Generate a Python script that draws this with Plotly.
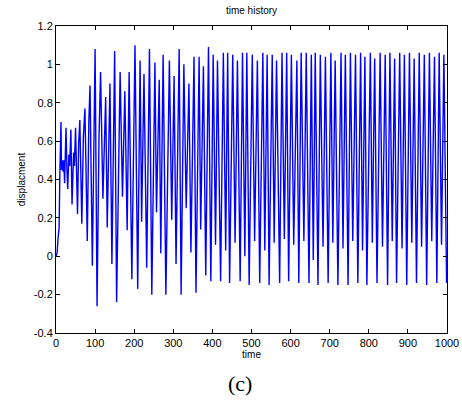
import plotly.graph_objects as go

# Transient part: (time, displacement) turning points
t_transient = [0, 3, 5, 8, 10, 12.8, 14, 16, 18, 20, 22, 25.6, 28, 30, 33, 35, 38, 41, 45, 47,
               50, 55, 58, 61, 66, 70, 74, 80, 84, 87, 93, 97, 100, 105, 110, 114, 120, 127, 131, 138,
               143, 150, 155, 164, 170, 176, 182, 187, 194, 202, 209, 215, 219, 225, 232, 239, 245, 253, 257, 264,
               268, 274, 281, 290, 296, 302, 307, 315, 320, 327, 333, 340, 345, 353, 358, 366, 370, 377, 383, 390,
               396]
y_transient = [0.0, 0.02, 0.09, 0.15, 0.45, 0.70, 0.45, 0.50, 0.44, 0.50, 0.38, 0.67, 0.45, 0.35, 0.53, 0.47, 0.66, 0.27, 0.54, 0.47,
               0.67, 0.22, 0.59, 0.71, 0.17, 0.62, 0.77, 0.08, 0.70, 0.89, -0.05, 0.68, 1.08, -0.26, 0.62, 0.96, 0.30, 0.83, 0.15, 0.90,
               -0.04, 1.07, -0.24, 0.96, 0.31, 0.86, 0.135, 0.96, -0.12, 1.10, -0.17, 1.02, 0.18, 0.95, -0.06, 1.08, -0.20, 1.01, 0.23, 0.92,
               0.015, 1.05, -0.20, 1.02, 0.19, 0.94, -0.04, 1.08, -0.20, 1.00, 0.25, 0.90, 0.02, 1.04, -0.19, 1.04, 0.14, 0.99, -0.10, 1.09,
               -0.13]

# Steady part
t_steady = [402, 408, 413, 421, 428, 434, 439, 444, 452, 458, 464, 471, 477, 483, 488, 494,
            502, 508, 515, 521, 529, 534, 540, 545, 553, 558, 564, 572, 578, 584, 590, 595,
            602, 608, 616, 621, 627, 634, 640, 647, 653, 658, 663, 670, 676, 683, 689, 696,
            703, 708, 714, 721, 729, 734, 740, 747, 753, 759, 766, 772, 779, 784, 790, 795,
            804, 809, 815, 821, 829, 835, 842, 848, 854, 860, 866, 871, 879, 885, 891, 897,
            904, 910, 916, 922, 929, 935, 942, 948, 955, 961, 968, 974, 980, 986, 992, 999]
y_steady = [1.05, 0.06, 1.02, -0.13, 1.06, 0.03, 1.06, -0.14, 1.05, 0.07, 1.02, -0.13, 1.06, 0.00, 1.06, -0.15,
            1.05, 0.08, 1.02, -0.14, 1.06, 0.03, 1.05, -0.15, 1.05, 0.07, 1.02, -0.14, 1.06, 0.09, 1.06, -0.13,
            1.05, 0.06, 1.02, -0.14, 1.06, 0.08, 1.06, -0.14, 1.05, -0.02, 1.06, -0.15, 1.05, 0.05, 1.04, -0.14,
            1.06, 0.07, 1.02, -0.15, 1.06, 0.04, 1.05, -0.15, 1.06, 0.08, 1.05, -0.14, 1.06, 0.03, 1.04, -0.15,
            1.06, 0.07, 1.03, -0.14, 1.06, 0.05, 1.05, -0.15, 1.06, 0.08, 1.03, -0.14, 1.06, 0.04, 1.05, -0.15,
            1.06, 0.07, 1.03, -0.14, 1.06, 0.05, 1.05, -0.15, 1.06, 0.08, 1.04, -0.14, 1.06, 0.06, 1.05, -0.14]

x_ticks = [0, 100, 200, 300, 400, 500, 600, 700, 800, 900, 1000]
y_ticks = [-0.4, -0.2, 0, 0.2, 0.4, 0.6, 0.8, 1, 1.2]
y_tick_labels = ["-0.4", "-0.2", "0", "0.2", "0.4", "0.6", "0.8", "1", "1.2"]

time = t_transient + t_steady
disp = y_transient + y_steady

fig = go.Figure()
fig.add_trace(go.Scatter(x=time, y=disp, mode="lines",
                         line=dict(color="#0000FF", width=1.4), showlegend=False))

font = "Liberation Sans, Arial, sans-serif"
axis_common = dict(showgrid=False, zeroline=False, showline=True, linecolor="black",
                   linewidth=1, mirror="ticks", ticks="inside", ticklen=4, automargin=False,
                   tickcolor="black", tickfont=dict(family=font, size=11, color="black"))

fig.update_layout(
    width=462, height=410, autosize=False,
    margin=dict(l=56, r=15, t=26, b=77),
    paper_bgcolor="white", plot_bgcolor="white",
    title=dict(text="time history", x=0.5444, xanchor="center", y=0.975, yanchor="middle",
               font=dict(family=font, size=10, color="black")),
    xaxis=dict(range=[0, 1000], tickvals=x_ticks, ticktext=[str(v) for v in x_ticks],
               title=dict(text="time", font=dict(family=font, size=10, color="black"), standoff=2),
               **axis_common),
    yaxis=dict(range=[-0.4, 1.2], tickvals=y_ticks, ticktext=y_tick_labels,
               title=dict(text="displacment", font=dict(family=font, size=10, color="black"), standoff=6),
               **axis_common),
)

fig.add_annotation(text="(c)", xref="paper", yref="paper", x=0.47, y=-0.165,
                   xanchor="center", yanchor="middle", showarrow=False,
                   font=dict(family="Liberation Serif", size=22, color="black"))

fig.write_html("out.html", config={"displayModeBar": False},
               post_script="document.body.style.margin='0';document.body.style.overflow='hidden';")
